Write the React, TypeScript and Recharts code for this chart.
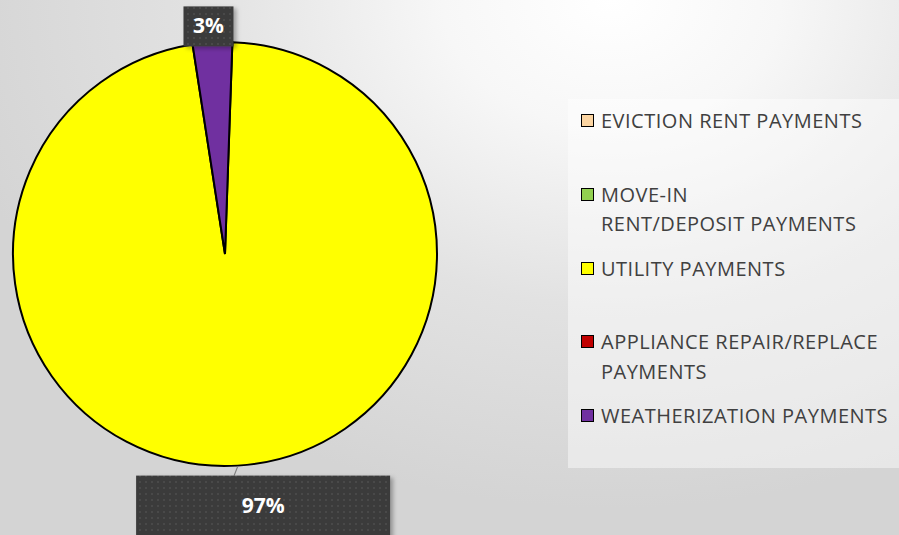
import { PieChart, Pie, Cell, Legend } from 'recharts';

const categories = [
  'EVICTION RENT PAYMENTS',
  'MOVE-IN RENT/DEPOSIT PAYMENTS',
  'UTILITY PAYMENTS',
  'APPLIANCE REPAIR/REPLACE PAYMENTS',
  'WEATHERIZATION PAYMENTS',
];
// legend text as wrapped in the original
const legendLabels = [
  ['EVICTION RENT PAYMENTS'],
  ['MOVE-IN', 'RENT/DEPOSIT PAYMENTS'],
  ['UTILITY PAYMENTS'],
  ['APPLIANCE REPAIR/REPLACE', 'PAYMENTS'],
  ['WEATHERIZATION PAYMENTS'],
];
const shares = [0, 0, 97, 0, 3];
const colors = ['#FCD5A2', '#92D050', '#FFFF00', '#C00000', '#7030A0'];

const data = categories.map((name, i) => ({ name, value: shares[i] }));

const RAD = Math.PI / 180;
const polar = (cx: number, cy: number, r: number, angle: number) => ({
  x: cx + r * Math.cos(-angle * RAD),
  y: cy + r * Math.sin(-angle * RAD),
});

function renderLabel(props: any) {
  const { cx, cy, midAngle, outerRadius, value } = props;
  if (!value) return null;
  const text = `${value}%`;
  const up = Math.sin(midAngle * RAD) > 0;
  if (up) {
    const p = polar(cx, cy, outerRadius + 16, midAngle);
    const w = 50;
    const h = 40;
    return (
      <g>
        <rect x={p.x - w / 2 - 3} y={p.y - h / 2} width={w} height={h} fill="url(#dots)" filter="url(#lblShadow)" />
        <text x={p.x - 3} y={p.y + 1} textAnchor="middle" dominantBaseline="middle" fill="#fff" fontSize={21} fontWeight={700} fontFamily="'Open Sans', sans-serif">
          {text}
        </text>
      </g>
    );
  }
  const a = polar(cx, cy, outerRadius + 1, midAngle);
  const b = polar(cx, cy, outerRadius + 9, midAngle);
  const w = 254;
  const left = b.x - 102;
  return (
    <g>
      <line x1={a.x} y1={a.y} x2={b.x - 4} y2={b.y + 1} stroke="#7f7f7f" strokeWidth={1.2} />
      <rect x={left} y={b.y + 1} width={w} height={70} fill="url(#dots)" filter="url(#lblShadow)" />
      <text x={left + w / 2} y={b.y + 33} textAnchor="middle" dominantBaseline="middle" fill="#fff" fontSize={21} fontWeight={700} fontFamily="'Open Sans', sans-serif">
        {text}
      </text>
    </g>
  );
}

function LegendBox() {
  return (
    <div
      style={{
        width: 331,
        height: 369,
        background: 'rgba(255,255,255,0.45)',
        fontFamily: "'Open Sans', sans-serif",
        fontSize: 20,
        letterSpacing: 0.5,
        color: '#404040',
        boxSizing: 'border-box',
        paddingTop: 7,
      }}
    >
      {legendLabels.map((lines, i) => (
        <div key={categories[i]} style={{ height: 73.75, position: 'relative' }}>
          <div
            style={{
              position: 'absolute',
              left: 13,
              top: 8,
              width: 11,
              height: 11,
              background: colors[i],
              border: '1.5px solid #000',
            }}
          />
          <div style={{ position: 'absolute', left: 33, top: 0, lineHeight: '29.5px', whiteSpace: 'nowrap' }}>
            {lines.map((l) => (
              <div key={l}>{l}</div>
            ))}
          </div>
        </div>
      ))}
    </div>
  );
}

export default function App() {
  return (
    <div
      style={{
        position: 'absolute',
        left: 0,
        top: 0,
        width: 899,
        height: 535,
        overflow: 'hidden',
        background: 'radial-gradient(ellipse 75% 95% at 68% 0%, #ffffff 0%, #f7f7f7 25%, #e2e2e2 60%, #d4d4d4 100%)',
      }}
    >
      <PieChart width={899} height={535} margin={{ top: 0, right: 0, bottom: 0, left: 0 }}>
        <defs>
          <pattern id="dots" width="6" height="6" patternUnits="userSpaceOnUse">
            <rect width="6" height="6" fill="#3b3b3b" />
            <rect x="1" y="1" width="2" height="2" fill="#494949" />
          </pattern>
          <filter id="lblShadow" x="-10%" y="-10%" width="130%" height="140%">
            <feDropShadow dx="3" dy="2" stdDeviation="2" floodColor="#000" floodOpacity="0.3" />
          </filter>
        </defs>
        <Pie
          data={data}
          dataKey="value"
          nameKey="name"
          cx={225}
          cy={254}
          outerRadius={212}
          startAngle={88}
          endAngle={-272}
          stroke="#000"
          strokeWidth={2}
          label={renderLabel}
          labelLine={false}
          isAnimationActive={false}
        >
          {data.map((d, i) => (
            <Cell key={d.name} fill={colors[i]} />
          ))}
        </Pie>
        <Legend
          layout="vertical"
          align="right"
          verticalAlign="top"
          content={() => <LegendBox />}
          wrapperStyle={{ left: 568, top: 99, width: 331, height: 369 }}
        />
      </PieChart>
    </div>
  );
}
